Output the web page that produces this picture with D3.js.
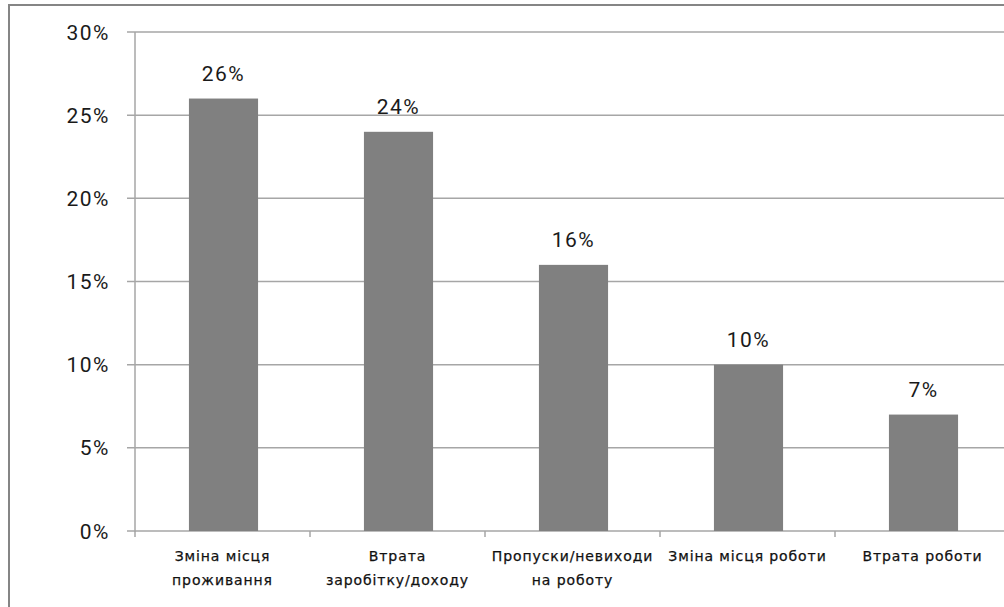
<!DOCTYPE html>
<html><head><meta charset="utf-8">
<script src="https://cdn.jsdelivr.net/npm/d3@7"></script>
<style>body{margin:0;background:#fff}svg{display:block}</style>
</head><body>
<svg id="c" width="1004" height="607"></svg>
<script>
const categories = [["Зміна місця","проживання"],["Втрата","заробітку/доходу"],["Пропуски/невиходи","на роботу"],["Зміна місця роботи"],["Втрата роботи"]];
const values = [26,24,16,10,7];
const yTicks = [0,5,10,15,20,25,30];

const svg = d3.select("#c");
// outer frame
svg.append("rect").attr("x",9).attr("y",5).attr("width",1010).attr("height",620)
  .attr("fill","none").attr("stroke","#858585").attr("stroke-width",2);

const x = d3.scaleBand().domain(d3.range(values.length)).range([135,1010]).padding(0);
const y = d3.scaleLinear().domain([0,30]).range([531,32]);
const barW = x.bandwidth()*0.395;

// gridlines
svg.append("g").selectAll("line").data(yTicks).join("line")
  .attr("x1",127).attr("x2",1010).attr("y1",d=>y(d)).attr("y2",d=>y(d))
  .attr("stroke","#a6a6a6").attr("stroke-width",1.5);
// y axis line
svg.append("line").attr("x1",135).attr("x2",135).attr("y1",y(30)).attr("y2",y(0)+1)
  .attr("stroke","#a6a6a6").attr("stroke-width",1.5);
// x ticks
svg.append("g").selectAll("line").data(d3.range(values.length+1)).join("line")
  .attr("x1",d=>135+d*x.step()).attr("x2",d=>135+d*x.step())
  .attr("y1",y(0)).attr("y2",y(0)+6).attr("stroke","#a6a6a6").attr("stroke-width",1.5);

// y labels
svg.append("g").selectAll("text").data(yTicks).join("text")
  .attr("x",110).attr("y",d=>y(d)).attr("dy","0.36em").attr("text-anchor","end")
  .attr("font-family","Roboto").attr("font-size",21).attr("letter-spacing",1.5)
  .attr("fill","#1a1a1a").text(d=>d+"%");

// bars
svg.append("g").selectAll("rect").data(values).join("rect")
  .attr("x",(d,i)=>x(i)+x.bandwidth()/2-barW/2+1).attr("width",barW)
  .attr("y",d=>y(d)).attr("height",d=>y(0)-y(d)).attr("fill","#808080");

// value labels
svg.append("g").selectAll("text").data(values).join("text")
  .attr("x",(d,i)=>x(i)+x.bandwidth()/2+1).attr("y",d=>y(d)-18)
  .attr("text-anchor","middle").attr("font-family","Roboto").attr("font-size",21)
  .attr("letter-spacing",1.5).attr("fill","#1a1a1a").text(d=>d+"%");

// category labels
const cl = svg.append("g").selectAll("text").data(categories).join("text")
  .attr("x",(d,i)=>x(i)+x.bandwidth()/2).attr("y",561)
  .attr("text-anchor","middle").attr("font-family","DejaVu Sans").attr("font-size",14)
  .attr("letter-spacing",0.9).attr("fill","#111").attr("stroke","#111").attr("stroke-width",0.25);
cl.selectAll("tspan").data(d=>d).join("tspan")
  .attr("x",function(){return this.parentNode.getAttribute("x");})
  .attr("dy",(d,i)=>i===0?0:24).text(d=>d);
</script>
</body></html>
